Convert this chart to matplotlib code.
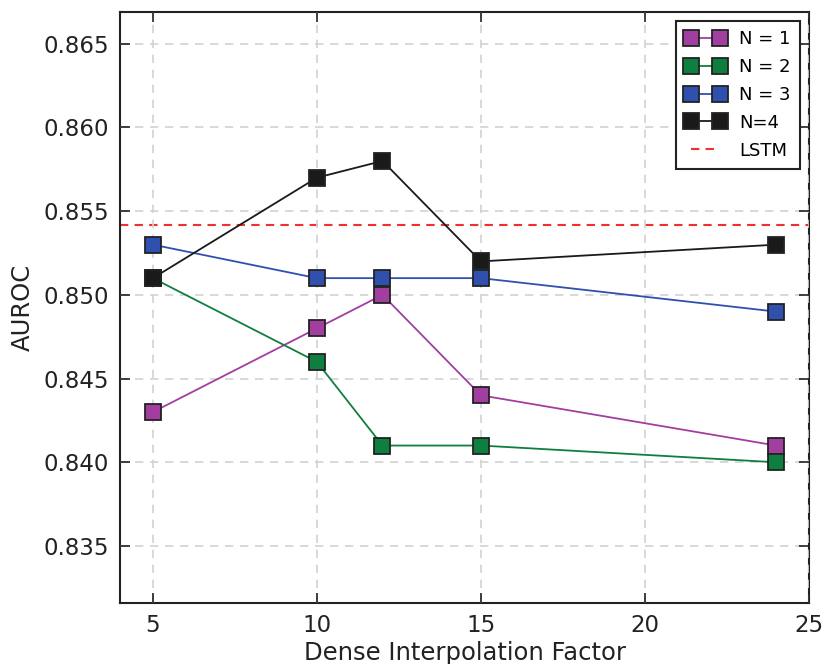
import matplotlib.pyplot as plt

# Daten
fatores = [5, 10, 12, 15, 24]
auroc_n1 = [0.843, 0.848, 0.850, 0.844, 0.841]
auroc_n2 = [0.851, 0.846, 0.841, 0.841, 0.840]
auroc_n3 = [0.853, 0.851, 0.851, 0.851, 0.849]
auroc_n4 = [0.851, 0.857, 0.858, 0.852, 0.853]
auroc_lstm = 0.8542
rotulos = ["N = 1", "N = 2", "N = 3", "N=4"]
cores = ["#a23ea0", "#0f7f3f", "#3050b0", "#1a1a1a"]

fig = plt.figure(figsize=(8.28, 6.64), dpi=100)
ax = fig.add_axes([0.145, 0.092, 0.832, 0.89])

for serie, cor, rot in zip([auroc_n1, auroc_n2, auroc_n3, auroc_n4], cores, rotulos):
    ax.plot(fatores, serie, color=cor, lw=1.3, marker='s', markersize=12,
            markerfacecolor=cor, markeredgecolor='#222222', markeredgewidth=1.3,
            label=rot, zorder=3)

ax.axhline(auroc_lstm, color='#f03030', ls=(0, (4, 3)), lw=1.5, label='LSTM', zorder=2)

ax.set_xlim(4, 25)
ax.set_ylim(0.8316, 0.8669)
ax.set_xticks([5, 10, 15, 20, 25])
ax.set_yticks([0.835, 0.840, 0.845, 0.850, 0.855, 0.860, 0.865])
ax.set_yticklabels([f"{v:.3f}" for v in ax.get_yticks()])

ax.grid(True, color='#d2d2d2', ls=(0, (5, 4)), lw=1.2, zorder=4)
ax.set_axisbelow(False)
ax.tick_params(direction='in', length=7, width=1.2, labelsize=16.5, colors='#222222',
               top=True, right=True, pad=8)
for s in ax.spines.values():
    s.set_linewidth(1.5)
    s.set_color('#222222')

ax.set_xlabel("Dense Interpolation Factor", fontsize=17.5, color='#222222', labelpad=3)
ax.set_ylabel("AUROC", fontsize=17.5, color='#222222', labelpad=6)

leg = ax.legend(loc='upper right', numpoints=2, fontsize=13, fancybox=False,
                edgecolor='#222222', framealpha=1, handlelength=2.2,
                borderaxespad=0.5, labelspacing=0.55, borderpad=0.5)
leg.get_frame().set_linewidth(1.5)

fig.savefig("out.png", dpi=100)
